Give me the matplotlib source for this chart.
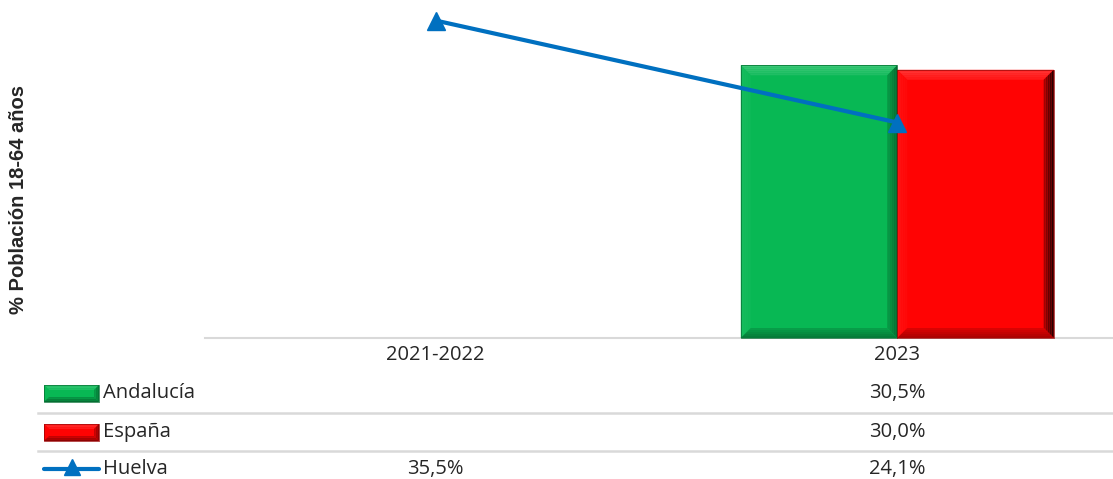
import matplotlib.pyplot as plt
import numpy as np
from matplotlib.patches import Polygon, Rectangle
from matplotlib.lines import Line2D
from matplotlib.colors import to_rgb

# ---- data -------------------------------------------------------------
periods = ["2021-2022", "2023"]
andalucia = [np.nan, 30.5]
espana = [np.nan, 30.0]
huelva = [35.5, 24.1]
series_names = ["Andalucía", "España", "Huelva"]
y_label = "% Población 18-64 años"

GREEN = "#08B854"
RED = "#FF0303"
BLUE = "#0070C0"
TEXT = "#262626"
GRID = "#D9D9D9"
TABLE_FONT = "Open Sans"

W, H = 1113, 479
fig = plt.figure(figsize=(W / 100, H / 100), dpi=100)


def fx(px):
    return px / W


def fy(py):
    # pixel row measured from the top -> figure fraction
    return 1 - py / H


ax = fig.add_axes([fx(205), fy(338), 1 - fx(205), 338 / H])
x = np.arange(len(periods))
bw = 0.339
ax.set_xlim(-0.5, 1.4675)
ax.set_ylim(0, 37.8)
ax.axis("off")


def shade(c, f):
    r = np.array(to_rgb(c))
    if f >= 0:
        return tuple(np.clip(r + (1 - r) * f, 0, 1))
    return tuple(np.clip(r * (1 + f), 0, 1))


def bevel(host, x0, y0, x1, y1, color, d=7, zorder=3,
          top=0.2, left=0.05, right=-0.5, bottom=-0.3, n=5):
    """Bevelled block in figure-fraction coords, faces shaded in bands."""
    add = host.add_patch if hasattr(host, "add_patch") else host.patches.append
    tf = fig.transFigure
    add(Rectangle((x0, y0), x1 - x0, y1 - y0, facecolor=color, edgecolor="none",
                  transform=tf, zorder=zorder, clip_on=False))
    for k in range(n):
        a, b = k / n, (k + 1) / n
        ox0, ox1 = a * d / W, b * d / W
        oy0, oy1 = a * d / H, b * d / H
        t = 1 - (k + 0.5) / n            # 1 at the outer rim, 0 inside
        faces = [
            ([(x0 + ox0, y1 - oy0), (x1 - ox0, y1 - oy0), (x1 - ox1, y1 - oy1), (x0 + ox1, y1 - oy1)], top),
            ([(x0 + ox0, y0 + oy0), (x0 + ox0, y1 - oy0), (x0 + ox1, y1 - oy1), (x0 + ox1, y0 + oy1)], left),
            ([(x1 - ox0, y0 + oy0), (x1 - ox0, y1 - oy0), (x1 - ox1, y1 - oy1), (x1 - ox1, y0 + oy1)], right),
            ([(x0 + ox0, y0 + oy0), (x1 - ox0, y0 + oy0), (x1 - ox1, y0 + oy1), (x0 + ox1, y0 + oy1)], bottom),
        ]
        for pts, f in faces:
            add(Polygon(pts, closed=True, facecolor=shade(color, f * (0.35 + 0.65 * t)),
                        edgecolor="none", transform=tf, zorder=zorder + 0.1,
                        clip_on=False, antialiased=True))
    add(Rectangle((x0, y0), x1 - x0, y1 - y0, facecolor="none",
                  edgecolor=shade(color, -0.4), linewidth=0.5, transform=tf,
                  zorder=zorder + 0.2, clip_on=False))


# ---- bars (placed through the axes scales, bevel drawn on top) --------
for offset, vals, col, rgt in ((-bw / 2, andalucia, GREEN, -0.45),
                               (bw / 2, espana, RED, -0.9)):
    for xi, v in zip(x, vals):
        if np.isnan(v):
            continue
        bars = ax.bar(xi + offset, v, bw, color=col, zorder=2)
        for bar in bars:
            (X0, Y0), (X1, Y1) = ax.transData.transform(
                [(bar.get_x(), bar.get_y()),
                 (bar.get_x() + bar.get_width(), bar.get_y() + bar.get_height())])
            bevel(ax, X0 / fig.bbox.width, Y0 / fig.bbox.height,
                  X1 / fig.bbox.width, Y1 / fig.bbox.height, col, d=10, zorder=2,
                  top=0.22, left=0.06, right=rgt, bottom=-0.35)

# baseline
ax.axhline(0, color=GRID, lw=1.5, zorder=1, clip_on=False)

# ---- line series ------------------------------------------------------
ax.plot(x, huelva, color=BLUE, lw=3, marker="^", markersize=13,
        markeredgecolor=BLUE, zorder=5, clip_on=False)

# ---- axis title -------------------------------------------------------
fig.text(fx(19), fy(200), y_label, rotation=90, ha="center", va="center",
         fontsize=14.5, fontweight="bold", family="Liberation Sans", color=TEXT)

# ---- data table -------------------------------------------------------
to_fig_x = lambda xv: ax.transData.transform((xv, 0))[0] / fig.bbox.width

for xi, lab in zip(x, periods):
    fig.text(to_fig_x(xi), fy(355), lab, ha="center", va="center",
             fontsize=14.5, family=TABLE_FONT, color=TEXT)

row_y = [393, 432, 469]
for sep in (413, 451):
    fig.add_artist(Line2D([fx(38), 1], [fy(sep), fy(sep)], color=GRID, lw=1.8,
                          transform=fig.transFigure))

for ry, name, vals in zip(row_y, series_names, (andalucia, espana, huelva)):
    fig.text(fx(103), fy(ry), name, ha="left", va="center",
             fontsize=14.5, family=TABLE_FONT, color=TEXT)
    for xi, v in zip(x, vals):
        if np.isnan(v):
            continue
        fig.text(to_fig_x(xi), fy(ry), f"{v:.1f}%".replace(".", ","),
                 ha="center", va="center", fontsize=14.5, family=TABLE_FONT, color=TEXT)

# legend keys inside the table
bevel(fig, fx(44), fy(402), fx(99), fy(385), GREEN, d=5, zorder=3,
      top=0.2, left=0.0, right=-0.4, bottom=-0.45, n=3)
bevel(fig, fx(44), fy(441), fx(99), fy(424), RED, d=5, zorder=3,
      top=0.2, left=0.0, right=-0.5, bottom=-0.5, n=3)
fig.add_artist(Line2D([fx(44), fx(99)], [fy(469), fy(469)], color=BLUE, lw=3,
                      transform=fig.transFigure, solid_capstyle="round"))
fig.add_artist(Line2D([fx(71.5)], [fy(467)], color=BLUE, marker="^", markersize=12,
                      transform=fig.transFigure))

fig.savefig("out.png", dpi=100)
